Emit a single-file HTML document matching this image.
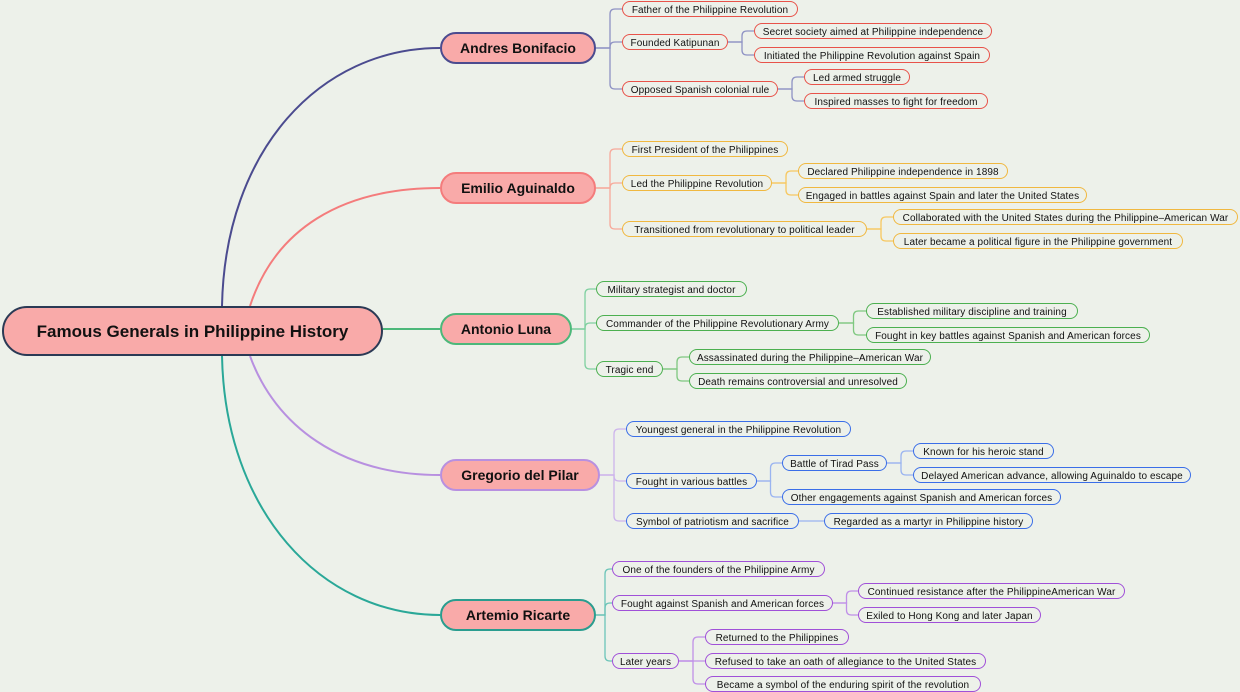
<!DOCTYPE html>
<html><head><meta charset="utf-8"><style>
body{margin:0;width:1240px;height:692px;background:#edf1ea;position:relative;overflow:hidden;font-family:"Liberation Sans","DejaVu Sans",sans-serif;}
.n{position:absolute;box-sizing:border-box;height:16px;border:1px solid;border-radius:8px;font-size:10px;line-height:17px;text-align:center;white-space:nowrap;color:#111;background:#edf1ea;letter-spacing:0.1px;overflow:hidden}
.m{position:absolute;box-sizing:border-box;height:32px;border:2px solid;border-radius:16px;font-size:14px;font-weight:bold;line-height:29px;text-align:center;background:#f9aaa9;color:#111;white-space:nowrap}
svg{position:absolute;left:0;top:0}
</style></head><body>
<svg id="s" width="1240" height="692" fill="none"></svg>
<div class="m" style="left:2px;top:306px;width:381px;height:50px;line-height:47px;border-radius:25px;font-size:17px;border-color:#2b3a55">Famous Generals in Philippine History</div>

<div class="m" style="left:440px;top:32px;width:156px;border-color:#4b4b8f">Andres Bonifacio</div>
<div class="m" style="left:440px;top:172px;width:156px;border-color:#f47c7c">Emilio Aguinaldo</div>
<div class="m" style="left:440px;top:313px;width:132px;border-color:#4cb87a">Antonio Luna</div>
<div class="m" style="left:440px;top:459px;width:160px;border-color:#b890e0">Gregorio del Pilar</div>
<div class="m" style="left:440px;top:599px;width:156px;border-color:#2a9d8f">Artemio Ricarte</div>

<div id="leaves"></div>
<script>
var L=[
[622,798,9,"Father of the Philippine Revolution","#e8534a"],
[622,728,42,"Founded Katipunan","#e8534a"],
[754,992,31,"Secret society aimed at Philippine independence","#e8534a"],
[754,990,55,"Initiated the Philippine Revolution against Spain","#e8534a"],
[622,778,89,"Opposed Spanish colonial rule","#e8534a"],
[804,910,77,"Led armed struggle","#e8534a"],
[804,988,101,"Inspired masses to fight for freedom","#e8534a"],
[622,788,149,"First President of the Philippines","#f0b840"],
[622,772,183,"Led the Philippine Revolution","#f0b840"],
[798,1008,171,"Declared Philippine independence in 1898","#f0b840"],
[798,1087,195,"Engaged in battles against Spain and later the United States","#f0b840"],
[622,867,229,"Transitioned from revolutionary to political leader","#f0b840"],
[893,1238,217,"Collaborated with the United States during the Philippine–American War","#f0b840"],
[893,1183,241,"Later became a political figure in the Philippine government","#f0b840"],
[596,747,289,"Military strategist and doctor","#4cb050"],
[596,839,323,"Commander of the Philippine Revolutionary Army","#4cb050"],
[866,1078,311,"Established military discipline and training","#4cb050"],
[866,1150,335,"Fought in key battles against Spanish and American forces","#4cb050"],
[596,663,369,"Tragic end","#4cb050"],
[689,931,357,"Assassinated during the Philippine–American War","#4cb050"],
[689,907,381,"Death remains controversial and unresolved","#4cb050"],
[626,851,429,"Youngest general in the Philippine Revolution","#3a6ee8"],
[626,757,481,"Fought in various battles","#3a6ee8"],
[782,887,463,"Battle of Tirad Pass","#3a6ee8"],
[913,1054,451,"Known for his heroic stand","#3a6ee8"],
[913,1191,475,"Delayed American advance, allowing Aguinaldo to escape","#3a6ee8"],
[782,1061,497,"Other engagements against Spanish and American forces","#3a6ee8"],
[626,799,521,"Symbol of patriotism and sacrifice","#3a6ee8"],
[824,1033,521,"Regarded as a martyr in Philippine history","#3a6ee8"],
[612,825,569,"One of the founders of the Philippine Army","#a050d8"],
[612,833,603,"Fought against Spanish and American forces","#a050d8"],
[858,1125,591,"Continued resistance after the PhilippineAmerican War","#a050d8"],
[858,1041,615,"Exiled to Hong Kong and later Japan","#a050d8"],
[612,679,661,"Later years","#a050d8"],
[705,849,637,"Returned to the Philippines","#a050d8"],
[705,986,661,"Refused to take an oath of allegiance to the United States","#a050d8"],
[705,981,684,"Became a symbol of the enduring spirit of the revolution","#a050d8"]
];
var h="";L.forEach(function(a){h+='<div class="n" style="left:'+a[0]+'px;top:'+(a[2]-8)+'px;width:'+(a[1]-a[0])+'px;border-color:'+a[4]+'">'+a[3]+'</div>';});
document.getElementById("leaves").innerHTML=h;
var C=[
[596,48,622,[9,42,89],"#8e92c4"],[728,42,754,[31,55],"#8e92c4"],[778,89,804,[77,101],"#8e92c4"],
[596,188,622,[149,183,229],"#f7a99a"],[772,183,798,[171,195],"#f7c860"],[867,229,893,[217,241],"#f7c860"],
[572,329,596,[289,323,369],"#7fd0a0"],[839,323,866,[311,335],"#7fc880"],[663,369,689,[357,381],"#7fc880"],
[600,475,626,[429,481,521],"#cdb4ec"],[757,481,782,[463,497],"#9ab4f0"],[887,463,913,[451,475],"#9ab4f0"],[799,521,824,[521],"#9ab4f0"],
[596,615,612,[569,603,661],"#6cc4b8"],[833,603,858,[591,615],"#c090e8"],[679,661,705,[637,661,684],"#c090e8"]
];
var s="";
C.forEach(function(c){var px=c[0],py=c[1],cx=c[2],bx=px+(cx-px)/2+1,r=5;
c[3].forEach(function(y){var d;
if(Math.abs(y-py)<2){d="M"+px+","+py+"H"+cx;}
else{var sg=y>py?1:-1;d="M"+px+","+py+"H"+bx+"V"+(y-sg*r)+"Q"+bx+","+y+" "+(bx+r)+","+y+"H"+cx;}
s+='<path d="'+d+'" stroke="'+c[4]+'" stroke-width="1.3"/>';});});
s+='<path d="M222,306 C225,150 320,48 440,48" stroke="#4b4b8f" stroke-width="2"/>';
s+='<path d="M250,306 C275,230 340,188 440,188" stroke="#f47c7c" stroke-width="2"/>';
s+='<path d="M383,329 H440" stroke="#4cb87a" stroke-width="2"/>';
s+='<path d="M250,356 C275,425 340,475 440,475" stroke="#b890e0" stroke-width="2"/>';
s+='<path d="M222,356 C225,510 320,615 440,615" stroke="#2aa898" stroke-width="2"/>';
document.getElementById("s").innerHTML=s;
</script>
</body></html>
